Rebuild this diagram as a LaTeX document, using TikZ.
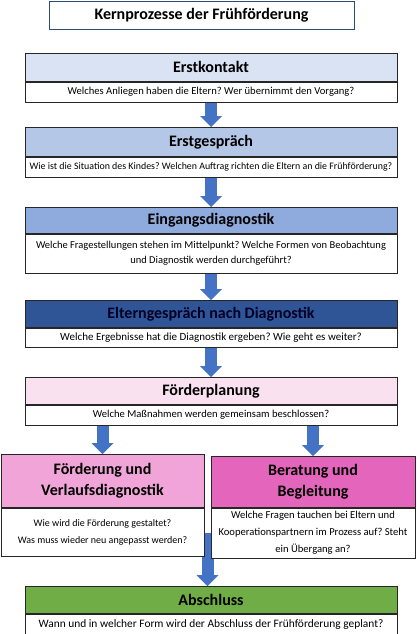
\documentclass[tikz,border=0pt]{standalone}
\usepackage{fontspec}
\setmainfont{Carlito}
\usetikzlibrary{positioning,arrows.meta,backgrounds,calc}

\definecolor{kontaktblau}{HTML}{DAE3F3}
\definecolor{gespraechblau}{HTML}{B4C7E7}
\definecolor{eingangblau}{HTML}{8FAADC}
\definecolor{elternblau}{HTML}{2F5597}
\definecolor{planrosa}{HTML}{FAE1F0}
\definecolor{foerdrosa}{HTML}{F1A4D8}
\definecolor{beratpink}{HTML}{E465BC}
\definecolor{abschgruen}{HTML}{70AD47}
\definecolor{pfeilblau}{HTML}{4472C4}
\definecolor{titelrand}{HTML}{2F4A70}
\definecolor{randgrau}{HTML}{262626}

\newcommand{\fragefont}[1]{\fontsize{#1}{15}\selectfont}

\begin{document}
\frenchspacing
\begin{tikzpicture}[x=1pt,y=-1pt,
    kopf/.style={draw=randgrau,line width=.8pt,minimum width=372pt,minimum height=28pt,
      inner sep=0pt,align=center,anchor=north,font=\fontsize{16}{21}\selectfont\bfseries},
    frage/.style={draw=randgrau,line width=.8pt,fill=white,minimum width=372pt,
      inner sep=0pt,align=center,font=\fragefont{10.5}},
    pfeil/.style={draw=pfeilblau,line width=12pt,-{Triangle[width=22pt,length=11pt,line width=0pt]}}]
    \useasboundingbox (0,0) rectangle (416,634);

    \node[draw=titelrand,line width=1pt,minimum width=305pt,minimum height=28pt,anchor=north,
      font=\fontsize{16}{21}\selectfont\bfseries] (titel) at (201.5,1) {Kernprozesse der Frühförderung};

    \node[kopf,fill=kontaktblau] (kontakt) at (211,53) {Erstkontakt};
    \node[frage,minimum height=20pt,below=0pt of kontakt,font=\fragefont{10.6}] (kontaktq)
      {Welches Anliegen haben die Eltern? Wer übernimmt den Vorgang?};

    \node[kopf,fill=gespraechblau,minimum height=29pt] (gespraech) at (211,127) {Erstgespräch};
    \node[frage,minimum height=20pt,below=0pt of gespraech,font=\fragefont{9.9}] (gespraechq)
      {Wie ist die Situation des Kindes? Welchen Auftrag richten die Eltern an die Frühförderung?};

    \node[kopf,fill=eingangblau,minimum height=26pt] (eingang) at (211,207) {Eingangsdiagnostik};
    \node[frage,minimum height=39pt,below=0pt of eingang,font=\fragefont{10.5}] (eingangq)
      {Welche Fragestellungen stehen im Mittelpunkt? Welche Formen von Beobachtung\\und Diagnostik werden durchgeführt?};

    \node[kopf,fill=elternblau,minimum height=27pt,text=black!85!blue] (eltern) at (211,300) {Elterngespräch nach Diagnostik};
    \node[frage,minimum height=19pt,below=0pt of eltern,font=\fragefont{11}] (elternq)
      {Welche Ergebnisse hat die Diagnostik ergeben? Wie geht es weiter?};

    \node[kopf,fill=planrosa,minimum height=27pt] (plan) at (211,377) {Förderplanung};
    \node[frage,minimum height=20pt,below=0pt of plan,font=\fragefont{10.6}] (planq)
      {Welche Maßnahmen werden gemeinsam beschlossen?};

    \node[kopf,fill=foerdrosa,minimum width=203pt,minimum height=53pt] (foerd) at (102.5,454)
      {Förderung und\\Verlaufsdiagnostik};
    \node[frage,minimum width=203pt,minimum height=48pt,below=0pt of foerd,
      font=\fontsize{10}{17}\selectfont] (foerdq)
      {Wie wird die Förderung gestaltet?\\Was muss wieder neu angepasst werden?};

    \node[kopf,fill=beratpink,minimum width=204pt,minimum height=51pt] (berat) at (313,456)
      {Beratung und\\Begleitung};
    \node[frage,minimum width=204pt,minimum height=50pt,below=0pt of berat,
      font=\fontsize{10.6}{17}\selectfont] (beratq)
      {Welche Fragen tauchen bei Eltern und\\Kooperationspartnern im Prozess auf? Steht\\ein Übergang an?};

    \node[kopf,fill=abschgruen,minimum height=27pt] (absch) at (211,586) {Abschluss};
    \node[frage,minimum height=20pt,below=0pt of absch,font=\fragefont{11.4}] (abschq)
      {Wann und in welcher Form wird der Abschluss der Frühförderung geplant?};

    % Pfeile
    \draw[pfeil] (kontaktq.south) -- (gespraech.north);
    \draw[pfeil] (gespraechq.south) -- (eingang.north);
    \draw[pfeil] (eingangq.south) -- (eltern.north);
    \draw[pfeil] (elternq.south) -- (plan.north);
    \draw[pfeil] (planq.south -| foerd.north) -- (foerd.north);
    \draw[pfeil] (planq.south -| berat.north) -- (berat.north);

    \coordinate (luecke) at ($(foerdq.east)!.5!(beratq.west)$);
    \begin{scope}[on background layer]
      \draw[pfeil] (luecke) -- (luecke |- absch.north);
    \end{scope}
\end{tikzpicture}
\end{document}
